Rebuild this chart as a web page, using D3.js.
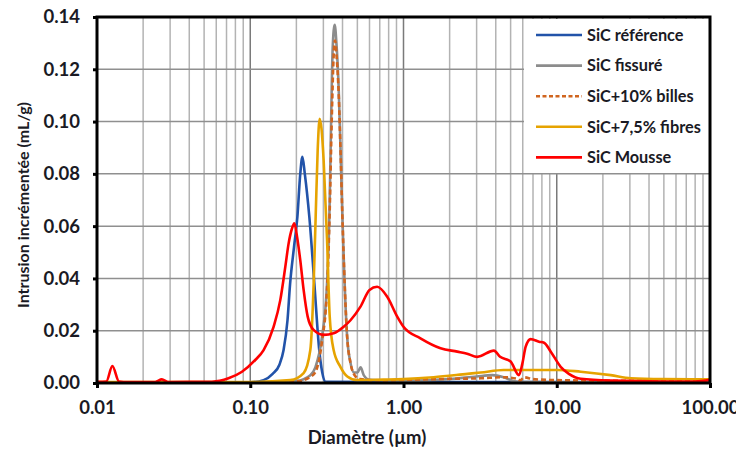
<!DOCTYPE html>
<html>
<head>
<meta charset="utf-8">
<script src="https://cdn.jsdelivr.net/npm/d3@7"></script>
<style>
  body { margin: 0; background: #fff; }
  text { font-family: Lato, "Open Sans", sans-serif; font-weight: bold; fill: #1a1a24; }
</style>
</head>
<body>
<div id="chart"></div>
<script>
// diameter (µm), incremental intrusion (mL/g)
var refData = [[0.01,0],[0.05,0.0001],[0.1,0.0003],[0.122,0.0011],[0.14,0.0035],[0.155,0.007],[0.165,0.0126],[0.175,0.024],[0.182,0.038],[0.193,0.052],[0.203,0.0635],[0.212,0.08],[0.219,0.0865],[0.227,0.08],[0.243,0.0635],[0.262,0.038],[0.282,0.0126],[0.295,0.004],[0.31,0.0005],[1,0.0004],[10,0.0004],[100,0.0003]];
var fissData = [[0.01,0],[0.1,0.0002],[0.2,0.0008],[0.2466,0.003],[0.266,0.006],[0.294,0.0177],[0.317,0.038],[0.33,0.07],[0.337,0.1],[0.345,0.128],[0.3556,0.137],[0.365,0.13],[0.378,0.112],[0.39,0.085],[0.4,0.062],[0.41,0.043],[0.4285,0.018],[0.451,0.0077],[0.475,0.004],[0.5,0.004],[0.525,0.006],[0.55,0.003],[0.6,0.0012],[1,0.0008],[2,0.0015],[3,0.0025],[3.8,0.003],[4.5,0.0022],[5.2,0.0008],[6,0.0004],[10,0.0003],[100,0.0002]];
var billesData = [[0.01,0],[0.1,0.0002],[0.2,0.0006],[0.25,0.0025],[0.27,0.005],[0.294,0.016],[0.317,0.036],[0.33,0.066],[0.34,0.1],[0.35,0.125],[0.357,0.131],[0.366,0.125],[0.378,0.11],[0.39,0.085],[0.4,0.062],[0.41,0.043],[0.4285,0.018],[0.451,0.0077],[0.48,0.003],[0.52,0.0015],[0.7,0.001],[1,0.0012],[2,0.0016],[3.2,0.0018],[4.5,0.0022],[5.5,0.0016],[5.8,0.001],[6.1,0.0022],[7,0.0015],[10,0.0011],[20,0.0009],[100,0.0008]];
var fibresData = [[0.01,0.0004],[0.1,0.0004],[0.1824,0.0011],[0.223,0.0038],[0.2466,0.0126],[0.2593,0.038],[0.2672,0.0636],[0.2754,0.089],[0.2837,0.1011],[0.292,0.097],[0.3013,0.085],[0.317,0.055],[0.33,0.0254],[0.35,0.0126],[0.3875,0.0062],[0.43,0.0025],[0.498,0.0011],[0.74,0.0013],[1,0.0015],[1.57,0.0022],[2.62,0.0035],[3.19,0.004],[4.5,0.005],[10.1,0.005],[14.35,0.0043],[22.5,0.003],[30.5,0.0018],[50,0.0015],[100,0.0014]];
var mousseData = [[0.01,0.0005],[0.0115,0.0006],[0.0126,0.0065],[0.0139,0.0006],[0.016,0.0004],[0.024,0.0004],[0.0265,0.0014],[0.029,0.0004],[0.0562,0.0005],[0.0721,0.0018],[0.0883,0.0043],[0.1078,0.0088],[0.1222,0.0126],[0.142,0.0215],[0.157,0.0317],[0.1694,0.0445],[0.178,0.0534],[0.187,0.059],[0.194,0.0611],[0.202,0.056],[0.212,0.047],[0.223,0.0356],[0.237,0.0254],[0.259,0.0203],[0.301,0.0184],[0.35,0.019],[0.407,0.0215],[0.451,0.024],[0.524,0.0292],[0.6,0.0356],[0.673,0.0368],[0.783,0.033],[0.91,0.0254],[1,0.0215],[1.29,0.0171],[1.745,0.0133],[2.244,0.012],[2.6,0.0112],[3.03,0.01],[3.89,0.0124],[4.27,0.01],[5,0.0082],[5.67,0.003],[5.97,0.0075],[6.27,0.0139],[6.76,0.0168],[7.66,0.0158],[8.26,0.0154],[9.14,0.012],[10.6,0.0062],[12,0.0035],[14.35,0.0016],[22.5,0.0009],[50,0.0006],[80,0.0006],[100,0.0012]];

var seriesNames = ["SiC référence", "SiC fissuré", "SiC+10% billes", "SiC+7,5% fibres", "SiC Mousse"];
var seriesColors = ["#2253a9", "#8c8c8c", "#d0651f", "#e6a300", "#ff0000"];
var seriesDash = [null, null, "5,3", null, null];
var allSeries = [refData, fissData, billesData, fibresData, mousseData];

var xTickValues = [0.01, 0.1, 1, 10, 100];
var yTickValues = [0, 0.02, 0.04, 0.06, 0.08, 0.10, 0.12, 0.14];

var svgWidth = 736;
var svgHeight = 452;
var margin = { top: 17, right: 26, bottom: 69, left: 97 };
var width = svgWidth - margin.left - margin.right;
var height = svgHeight - margin.top - margin.bottom;

var svg = d3.select("#chart")
  .append("svg")
  .attr("width", svgWidth)
  .attr("height", svgHeight);

var chartGroup = svg.append("g")
  .attr("transform", `translate(${margin.left}, ${margin.top})`);

var xScale = d3.scaleLog().domain([0.01, 100]).range([0, width]);
var yScale = d3.scaleLinear().domain([0, 0.14]).range([height, 0]);

// vertical grid: minor and decade lines
var allX = xScale.ticks();
chartGroup.selectAll(".vgrid")
  .data(allX)
  .enter()
  .append("line")
  .attr("x1", d => xScale(d))
  .attr("x2", d => xScale(d))
  .attr("y1", 0)
  .attr("y2", height)
  .attr("stroke", d => xTickValues.some(t => Math.abs(t - d) < 1e-9) ? "#7a7a7a" : "#b3b3b3")
  .attr("stroke-width", 1.5);

// horizontal grid
chartGroup.selectAll(".hgrid")
  .data(yTickValues)
  .enter()
  .append("line")
  .attr("x1", 0)
  .attr("x2", width)
  .attr("y1", d => yScale(d))
  .attr("y2", d => yScale(d))
  .attr("stroke", "#8f8f8f")
  .attr("stroke-width", 1.5);

// legend background covers the grid
var legendX = 427, legendY = 2;
chartGroup.append("rect")
  .attr("x", legendX)
  .attr("y", legendY)
  .attr("width", width - legendX)
  .attr("height", 154)
  .attr("fill", "#fff");

var line = d3.line()
  .x(d => xScale(d[0]))
  .y(d => yScale(d[1]))
  .curve(d3.curveMonotoneX);

chartGroup.append("clipPath").attr("id", "clip")
  .append("rect").attr("width", width).attr("height", height);

allSeries.forEach(function(data, i) {
  chartGroup.append("path")
    .datum(data)
    .attr("clip-path", "url(#clip)")
    .attr("d", line)
    .attr("fill", "none")
    .attr("stroke", seriesColors[i])
    .attr("stroke-width", 2.6)
    .attr("stroke-dasharray", seriesDash[i])
    .attr("stroke-linejoin", "round");
});

// axes
var leftAxis = d3.axisLeft(yScale)
  .tickValues(yTickValues)
  .tickFormat(d3.format(".2f"))
  .tickSize(4)
  .tickPadding(13);
var bottomAxis = d3.axisBottom(xScale)
  .tickValues(xTickValues)
  .tickFormat(d3.format(".2f"))
  .tickSize(5)
  .tickPadding(13);

var yAxisG = chartGroup.append("g").call(leftAxis);
var xAxisG = chartGroup.append("g")
  .attr("transform", `translate(0, ${height})`)
  .call(bottomAxis);

[yAxisG, xAxisG].forEach(function(g) {
  g.select(".domain").remove();
  g.selectAll(".tick line").attr("stroke", "#000").attr("stroke-width", 3);
  g.selectAll(".tick text")
    .style("font-family", "Lato, sans-serif")
    .style("font-weight", "bold")
    .style("font-size", "18.5px")
    .attr("fill", "#1a1a24");
});

// plot frame
chartGroup.append("rect")
  .attr("width", width)
  .attr("height", height)
  .attr("fill", "none")
  .attr("stroke", "#000")
  .attr("stroke-width", 3);

// legend
var legend = chartGroup.selectAll(".legend")
  .data(seriesNames)
  .enter()
  .append("g")
  .attr("transform", (d, i) => `translate(${439}, ${18 + i * 30.6})`);

legend.append("line")
  .attr("x1", 0)
  .attr("x2", 46)
  .attr("stroke", (d, i) => seriesColors[i])
  .attr("stroke-width", 2.6)
  .attr("stroke-dasharray", (d, i) => seriesDash[i] ? "4,2.5" : null);

legend.append("text")
  .attr("x", 51)
  .attr("dy", "0.35em")
  .style("font-size", "16.3px")
  .text(d => d);

// axis titles
svg.append("text")
  .attr("x", 367)
  .attr("y", 444)
  .attr("text-anchor", "middle")
  .style("font-size", "18.5px")
  .text("Diamètre (µm)");

svg.append("text")
  .attr("transform", "rotate(-90)")
  .attr("x", -205)
  .attr("y", 23)
  .attr("dy", "0.35em")
  .attr("text-anchor", "middle")
  .style("font-size", "16px")
  .text("Intrusion incrémentée (mL/g)");
</script>
</body>
</html>
